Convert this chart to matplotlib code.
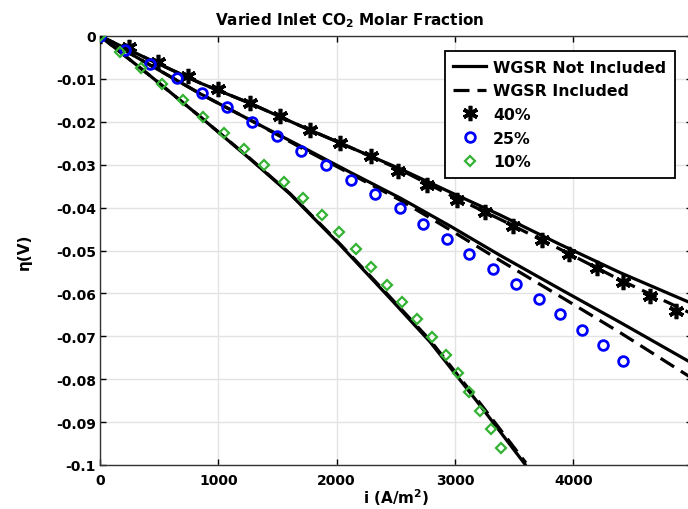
import matplotlib
matplotlib.use("Agg")
import matplotlib.pyplot as plt
from matplotlib.lines import Line2D

plt.rcParams['axes.unicode_minus'] = False
plt.rcParams['font.family'] = ['DejaVu Sans']

# ---- data ----
# model curves (current density i in A/m^2, overpotential in V)
i_line = [0, 425, 850, 1270, 1690, 2110, 2540, 2960, 3380, 3890, 4400, 5000]
eta40_solid = [0, -0.0056, -0.0110, -0.0157, -0.0209, -0.0259, -0.0310, -0.0364, -0.0417, -0.0486, -0.0552, -0.0623]
eta40_dash = [0, -0.0056, -0.0110, -0.0157, -0.0209, -0.0259, -0.0312, -0.0371, -0.0427, -0.0497, -0.0569, -0.0647]
eta25_solid = [0, -0.0068, -0.0135, -0.0196, -0.0256, -0.0317, -0.0378, -0.0443, -0.0511, -0.0590, -0.0668, -0.0762]
eta25_dash = [0, -0.0068, -0.0135, -0.0196, -0.0259, -0.0320, -0.0383, -0.0452, -0.0523, -0.0607, -0.0692, -0.0797]

i_line10 = [0, 425, 850, 1270, 1605, 2030, 2450, 2790, 3210, 3600]
eta10_solid = [0, -0.0093, -0.0189, -0.0287, -0.0368, -0.0487, -0.0611, -0.0713, -0.0860, -0.1001]
eta10_dash = [0, -0.0093, -0.0189, -0.0286, -0.0367, -0.0485, -0.0608, -0.0709, -0.0855, -0.0995]

# experimental / reference markers
i_40 = [0, 245, 490, 744, 997, 1268, 1522, 1775, 2029, 2291, 2519, 2764, 3018, 3254, 3491, 3736, 3964, 4201, 4421, 4649, 4869]
eta_40 = [0, -0.0026, -0.0061, -0.0093, -0.0124, -0.0156, -0.0187, -0.0219, -0.0249, -0.0280, -0.0315, -0.0347, -0.0382, -0.0410, -0.0443, -0.0476, -0.0508, -0.0541, -0.0573, -0.0606, -0.0641]

i_25 = [0, 211, 423, 648, 860, 1071, 1282, 1494, 1699, 1910, 2119, 2325, 2532, 2733, 2931, 3122, 3320, 3514, 3708, 3888, 4074, 4254, 4423]
eta_25 = [0, -0.0032, -0.0065, -0.0099, -0.0133, -0.0166, -0.0201, -0.0234, -0.0267, -0.0301, -0.0335, -0.0368, -0.0401, -0.0438, -0.0473, -0.0507, -0.0543, -0.0578, -0.0613, -0.0649, -0.0685, -0.0720, -0.0758]

i_10 = [0, 169, 347, 522, 699, 873, 1048, 1217, 1386, 1558, 1719, 1879, 2023, 2164, 2291, 2424, 2550, 2682, 2804, 2925, 3026, 3122, 3212, 3301, 3387]
eta_10 = [0, -0.0037, -0.0075, -0.0112, -0.0149, -0.0188, -0.0226, -0.0263, -0.0301, -0.0340, -0.0378, -0.0417, -0.0456, -0.0497, -0.0539, -0.0580, -0.0621, -0.0660, -0.0701, -0.0743, -0.0786, -0.0829, -0.0873, -0.0916, -0.0960]

x_ticks = [0, 1000, 2000, 3000, 4000]
y_ticks = [0, -0.01, -0.02, -0.03, -0.04, -0.05, -0.06, -0.07, -0.08, -0.09, -0.1]
y_ticklabels = ['0', '-0.01', '-0.02', '-0.03', '-0.04', '-0.05', '-0.06', '-0.07', '-0.08', '-0.09', '-0.1']

GREEN = '#33b233'
BLUE = '#0000ff'

fig = plt.figure(figsize=(6.88, 5.10), dpi=100)
ax = fig.add_axes([100/688, 44/510, 591.5/688, 429/510])

LW = 2.3
DASH = (5, 2.5)
for x, ys, yd in [(i_line, eta40_solid, eta40_dash), (i_line, eta25_solid, eta25_dash),
                  (i_line10, eta10_solid, eta10_dash)]:
    ax.plot(x, ys, color='black', lw=LW, solid_capstyle='butt', zorder=3)
    ax.plot(x, yd, color='black', lw=LW, dashes=DASH, zorder=3)

STAR = dict(ls='none', marker=(6, 2, 0), ms=11, mew=2.6, color='black')
CIRC = dict(ls='none', marker='o', ms=7, mew=2.0, mfc='none', mec=BLUE)
DIAM = dict(ls='none', marker='D', ms=5, mew=1.6, mfc='none', mec=GREEN)

ax.plot(i_40, eta_40, zorder=4, **STAR)
ax.plot(i_25, eta_25, zorder=4, **CIRC)
ax.plot(i_10, eta_10, zorder=4, **DIAM)

ax.set_xlim(0, 5000)
ax.set_ylim(-0.1, 0)
ax.set_xticks(x_ticks)
ax.set_xticklabels([str(t) for t in x_ticks], fontsize=10, fontweight='bold')
ax.set_yticks(y_ticks)
ax.set_yticklabels(y_ticklabels, fontsize=10, fontweight='bold')
ax.tick_params(direction='in', length=4, width=1, top=True, right=True)
ax.tick_params(axis='x', pad=6)
ax.tick_params(axis='y', pad=3)
ax.grid(True, color='#e3e3e3', lw=1)
ax.set_axisbelow(True)
for s in ax.spines.values():
    s.set_color('#333333')
    s.set_linewidth(1)

ax.set_xlabel('i (A/m$^\\mathbf{2}$)', fontsize=11, fontweight='bold', labelpad=-1)
ax.set_ylabel('η(V)', fontsize=11, fontweight='bold', labelpad=17)
fig.text(350/688, 1 - 21/510, 'Varied Inlet CO$_\\mathbf{2}$ Molar Fraction', fontsize=11,
         fontweight='bold', ha='center', va='center')

handles = [
    Line2D([], [], color='black', lw=LW),
    Line2D([], [], color='black', lw=LW, dashes=DASH),
    Line2D([], [], **STAR),
    Line2D([], [], **CIRC),
    Line2D([], [], **DIAM),
]
labels = ['WGSR Not Included', 'WGSR Included', '40%', '25%', '10%']
leg = ax.legend(handles, labels, loc='upper right', bbox_to_anchor=(675/688, 1 - 52/510),
                bbox_transform=fig.transFigure, borderaxespad=0,
                prop={'size': 11.3, 'weight': 'bold'},
                fancybox=False, framealpha=1, edgecolor='black', handlelength=2.1,
                handletextpad=0.45, labelspacing=0.55, borderpad=0.55, numpoints=1)
leg.get_frame().set_linewidth(1.3)

fig.savefig('out.png', dpi=100)
